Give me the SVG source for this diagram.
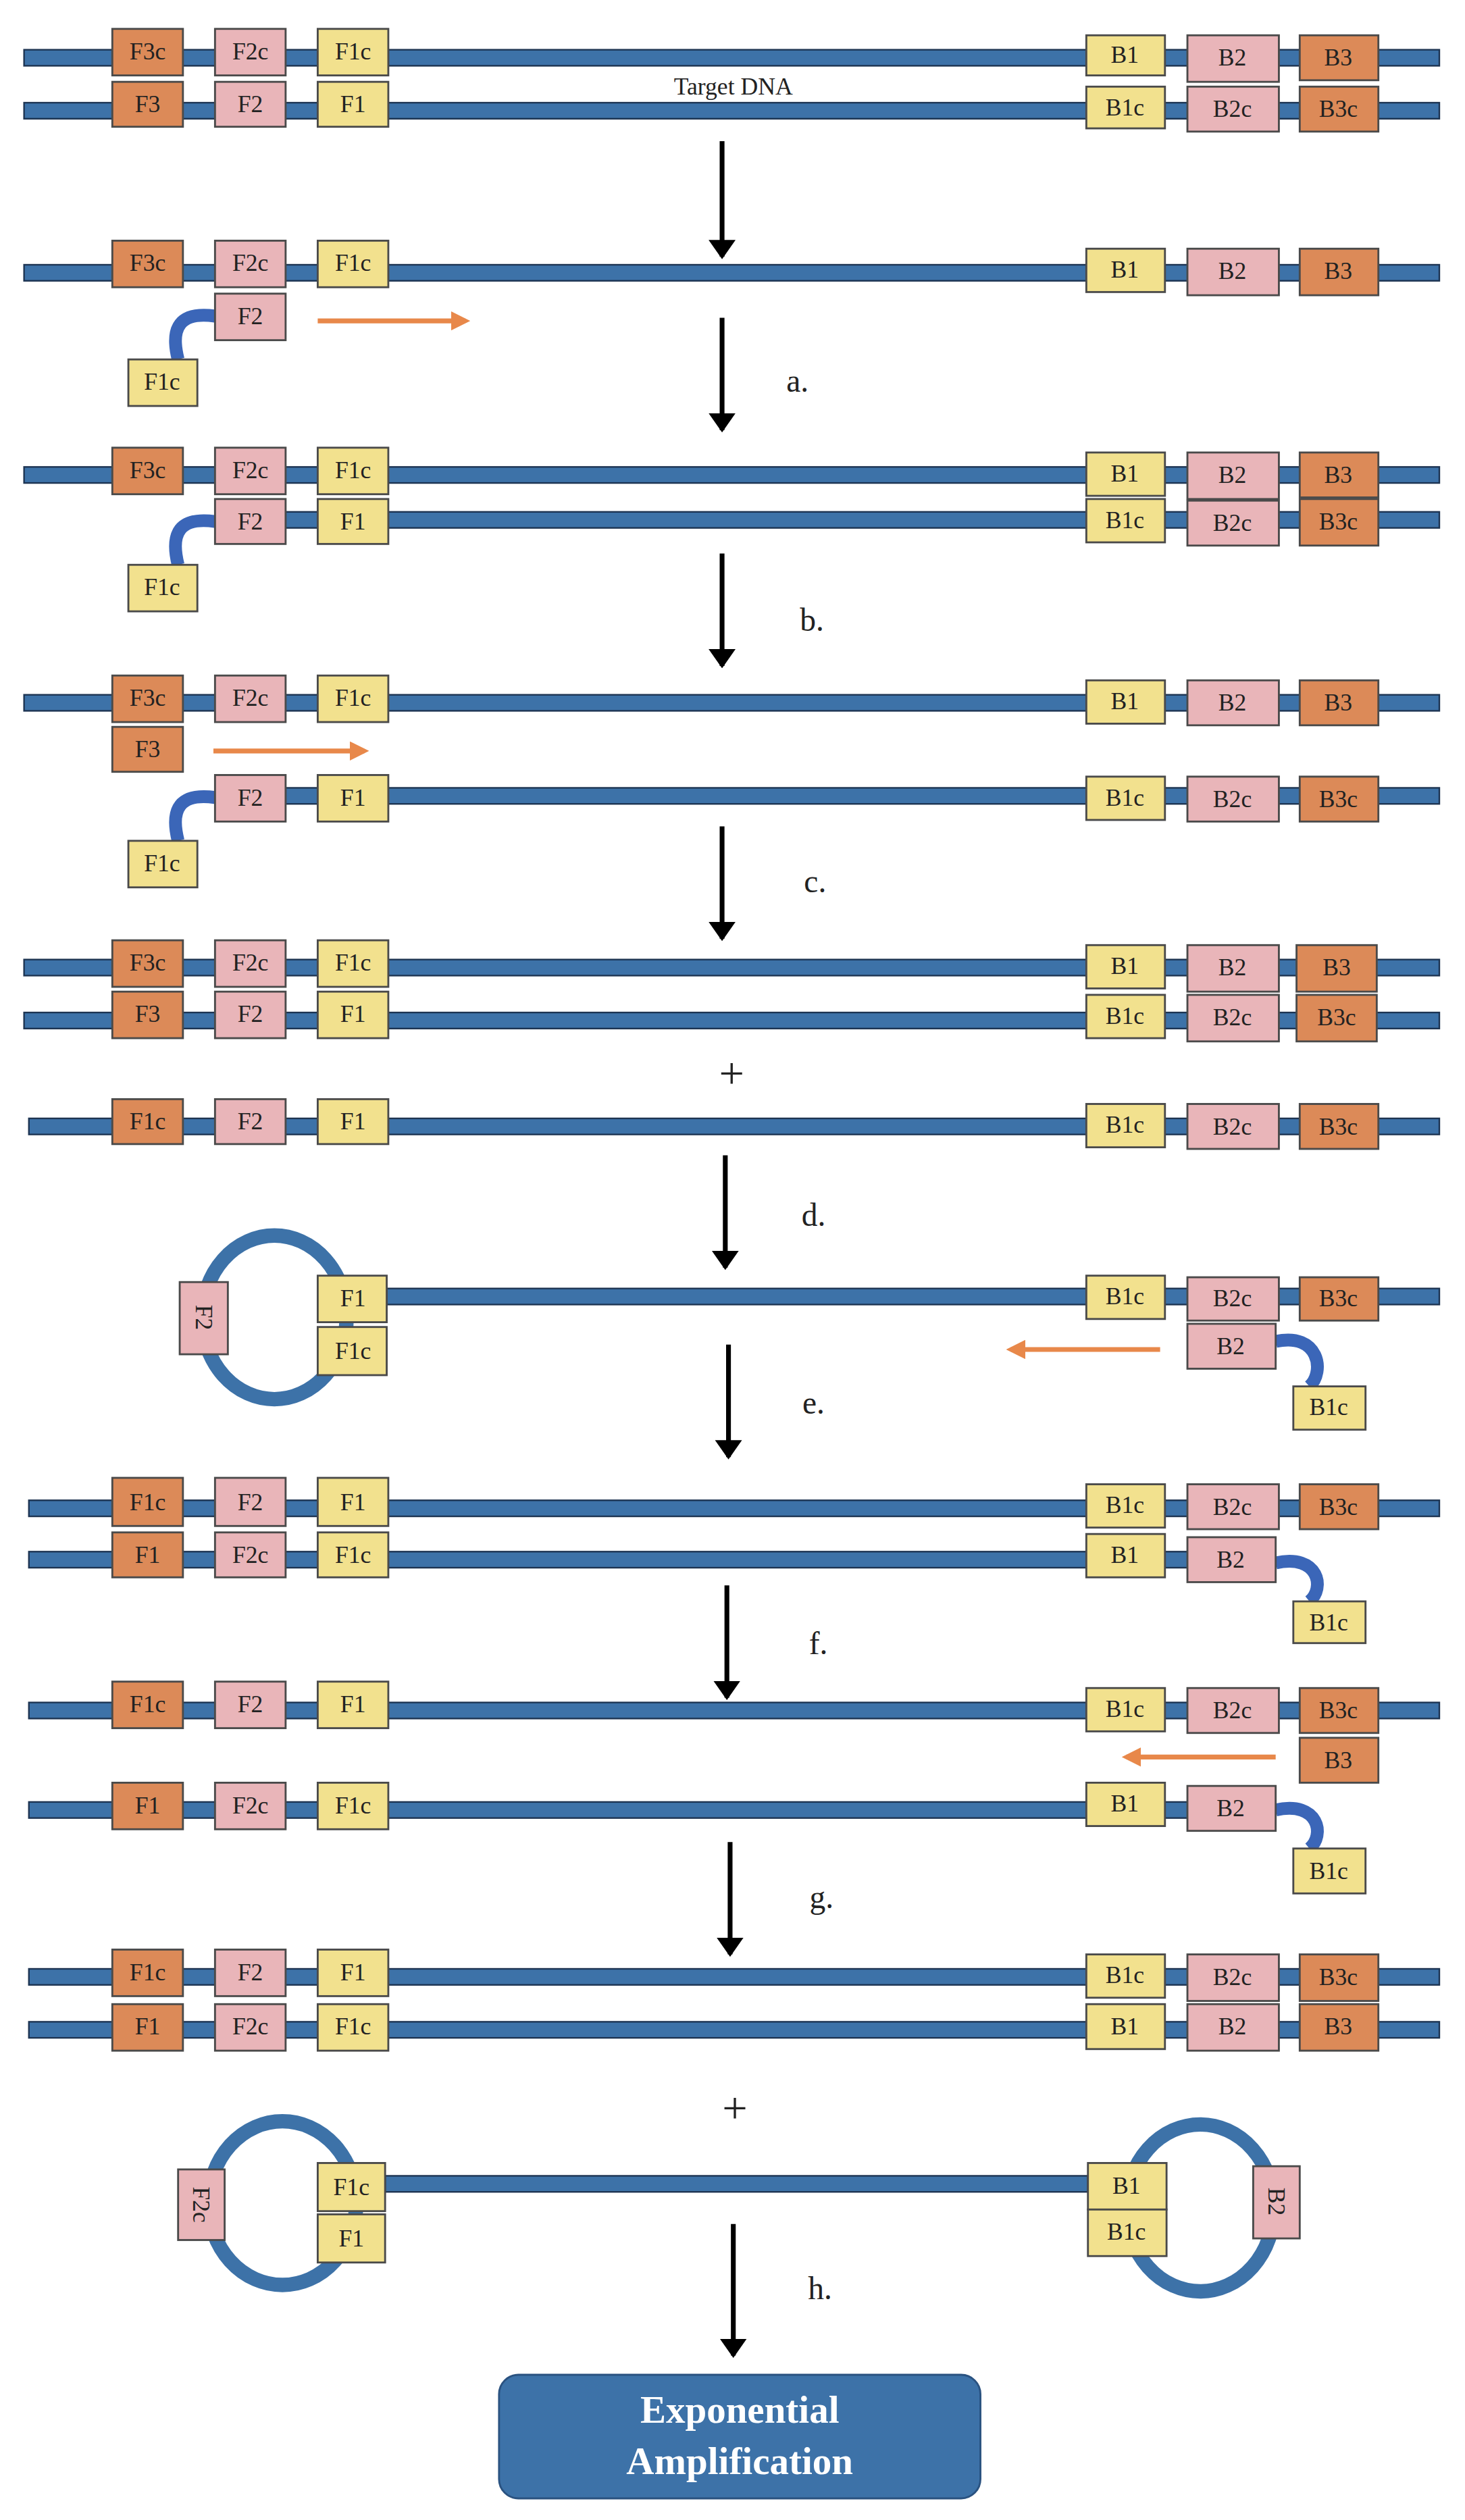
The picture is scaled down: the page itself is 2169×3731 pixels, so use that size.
<svg xmlns="http://www.w3.org/2000/svg" width="2169" height="3731" viewBox="0 0 2169 3731">
<defs>
<style>
.s{fill:#3d72a8;stroke:#1d3452;stroke-width:1}
.o{fill:#dc8a58;stroke:#4a4a4a;stroke-width:1.2}
.p{fill:#e9b5b9;stroke:#4a4a4a;stroke-width:1.2}
.y{fill:#f2e18e;stroke:#4a4a4a;stroke-width:1.2}
text{font-family:"Liberation Serif",serif;font-size:15px;fill:#222;text-anchor:middle}
.lb{font-size:20px}
.pl{font-size:28px}
.ar{stroke:#000;stroke-width:3;fill:none;marker-end:url(#ah)}
.oa{stroke:#e8884a;stroke-width:3;fill:none;marker-end:url(#oh)}
.hk{stroke:#3b66b8;stroke-width:8;fill:none}
.lp{stroke:#3d72a8;stroke-width:9;fill:none}
</style>
<marker id="ah" markerWidth="4" markerHeight="6" refX="3.5" refY="3" orient="auto" markerUnits="strokeWidth"><path d="M0,0.2 L4,3 L0,5.8 Z" fill="#000"/></marker>
<marker id="oh" markerWidth="4" markerHeight="4" refX="3" refY="2" orient="auto" markerUnits="strokeWidth"><path d="M0,0 L4,2 L0,4 Z" fill="#e8884a"/></marker>
</defs>
<rect width="2169" height="3731" fill="#fff"/>
<g transform="scale(2.3757)">
<g id="strands">
<rect class="s" x="15" y="31" width="882" height="10"/>
<rect class="s" x="15" y="64" width="882" height="10"/>
<rect class="s" x="15" y="165" width="882" height="10"/>
<rect class="s" x="15" y="291" width="882" height="10"/>
<rect class="s" x="178" y="319" width="719" height="10"/>
<rect class="s" x="15" y="433" width="882" height="10"/>
<rect class="s" x="178" y="491" width="719" height="10"/>
<rect class="s" x="15" y="598" width="882" height="10"/>
<rect class="s" x="15" y="631" width="882" height="10"/>
<rect class="s" x="18" y="697" width="879" height="10"/>
<rect class="s" x="241" y="803" width="656" height="10"/>
<rect class="s" x="18" y="935" width="879" height="10"/>
<rect class="s" x="18" y="967" width="777" height="10"/>
<rect class="s" x="18" y="1061" width="879" height="10"/>
<rect class="s" x="18" y="1123" width="777" height="10"/>
<rect class="s" x="18" y="1227" width="879" height="10"/>
<rect class="s" x="18" y="1260" width="879" height="10"/>
<rect class="s" x="240" y="1356" width="438" height="10"/>
<ellipse class="lp" cx="171" cy="821" rx="45" ry="51"/>
<ellipse class="lp" cx="176" cy="1373" rx="46" ry="51"/>
<ellipse class="lp" cx="748" cy="1376" rx="46" ry="52"/>
<path class="hk" d="M111,224 C106,204 112,194 134,197"/>
<path class="hk" d="M111,352 C106,332 112,322 134,325"/>
<path class="hk" d="M111,524 C106,504 112,494 134,497"/>
<path class="hk" d="M795,836 C822,830 826,855 816,864"/>
<path class="hk" d="M795,974 C822,968 826,990 816,998"/>
<path class="hk" d="M795,1128 C822,1122 826,1144 816,1152"/>
</g>
<g id="arrows">
<line class="ar" x1="450" y1="88" x2="450" y2="160"/>
<line class="ar" x1="450" y1="198" x2="450" y2="268"/>
<line class="ar" x1="450" y1="345" x2="450" y2="415"/>
<line class="ar" x1="450" y1="515" x2="450" y2="585"/>
<line class="ar" x1="452" y1="720" x2="452" y2="790"/>
<line class="ar" x1="454" y1="838" x2="454" y2="908"/>
<line class="ar" x1="453" y1="988" x2="453" y2="1058"/>
<line class="ar" x1="455" y1="1148" x2="455" y2="1218"/>
<line class="ar" x1="457" y1="1386" x2="457" y2="1468"/>
<line class="oa" x1="198" y1="200" x2="290" y2="200"/>
<line class="oa" x1="133" y1="468" x2="227" y2="468"/>
<line class="oa" x1="723" y1="841" x2="630" y2="841"/>
<line class="oa" x1="795" y1="1095" x2="702" y2="1095"/>
</g>
<g id="labels">
<text x="457" y="59">Target DNA</text>
<text class="lb" x="497" y="244">a.</text>
<text class="lb" x="506" y="393">b.</text>
<text class="lb" x="508" y="556">c.</text>
<text class="lb" x="507" y="764">d.</text>
<text class="lb" x="507" y="881">e.</text>
<text class="lb" x="510" y="1031">f.</text>
<text class="lb" x="512" y="1189">g.</text>
<text class="lb" x="511" y="1433">h.</text>
<text class="pl" x="456" y="678">+</text>
<text class="pl" x="458" y="1323">+</text>
</g>
<!-- row 0 -->
<g id="r0a"><rect class="o" x="70" y="18" width="44" height="29"/><text x="92" y="37">F3c</text></g>
<g id="r0b"><rect class="p" x="134" y="18" width="44" height="29"/><text x="156" y="37">F2c</text></g>
<g id="r0c"><rect class="y" x="198" y="18" width="44" height="29"/><text x="220" y="37">F1c</text></g>
<g id="r0d"><rect class="y" x="677" y="22" width="49" height="25"/><text x="701" y="39">B1</text></g>
<g id="r0e"><rect class="p" x="740" y="22" width="57" height="29"/><text x="768" y="41">B2</text></g>
<g id="r0f"><rect class="o" x="810" y="22" width="49" height="28"/><text x="834" y="41">B3</text></g>
<g id="r0g"><rect class="o" x="70" y="51" width="44" height="28"/><text x="92" y="70">F3</text></g>
<g id="r0h"><rect class="p" x="134" y="51" width="44" height="28"/><text x="156" y="70">F2</text></g>
<g id="r0i"><rect class="y" x="198" y="51" width="44" height="28"/><text x="220" y="70">F1</text></g>
<g id="r0j"><rect class="y" x="677" y="54" width="49" height="26"/><text x="701" y="72">B1c</text></g>
<g id="r0k"><rect class="p" x="740" y="54" width="57" height="28"/><text x="768" y="73">B2c</text></g>
<g id="r0l"><rect class="o" x="810" y="54" width="49" height="28"/><text x="834" y="73">B3c</text></g>
<!-- row 1 -->
<g id="r1a"><rect class="o" x="70" y="150" width="44" height="29"/><text x="92" y="169">F3c</text></g>
<g id="r1b"><rect class="p" x="134" y="150" width="44" height="29"/><text x="156" y="169">F2c</text></g>
<g id="r1c"><rect class="y" x="198" y="150" width="44" height="29"/><text x="220" y="169">F1c</text></g>
<g id="r1d"><rect class="y" x="677" y="155" width="49" height="27"/><text x="701" y="173">B1</text></g>
<g id="r1e"><rect class="p" x="740" y="155" width="57" height="29"/><text x="768" y="174">B2</text></g>
<g id="r1f"><rect class="o" x="810" y="155" width="49" height="29"/><text x="834" y="174">B3</text></g>
<g id="r1g"><rect class="p" x="134" y="183" width="44" height="29"/><text x="156" y="202">F2</text></g>
<g id="r1h"><rect class="y" x="80" y="224" width="43" height="29"/><text x="101" y="243">F1c</text></g>
<!-- row 2 -->
<g id="r2a"><rect class="o" x="70" y="279" width="44" height="29"/><text x="92" y="298">F3c</text></g>
<g id="r2b"><rect class="p" x="134" y="279" width="44" height="29"/><text x="156" y="298">F2c</text></g>
<g id="r2c"><rect class="y" x="198" y="279" width="44" height="29"/><text x="220" y="298">F1c</text></g>
<g id="r2d"><rect class="y" x="677" y="282" width="49" height="27"/><text x="701" y="300">B1</text></g>
<g id="r2e"><rect class="p" x="740" y="282" width="57" height="29"/><text x="768" y="301">B2</text></g>
<g id="r2f"><rect class="o" x="810" y="282" width="49" height="28"/><text x="834" y="301">B3</text></g>
<g id="r2g"><rect class="p" x="134" y="311" width="44" height="28"/><text x="156" y="330">F2</text></g>
<g id="r2h"><rect class="y" x="198" y="311" width="44" height="28"/><text x="220" y="330">F1</text></g>
<g id="r2i"><rect class="y" x="677" y="311" width="49" height="27"/><text x="701" y="329">B1c</text></g>
<g id="r2j"><rect class="p" x="740" y="312" width="57" height="28"/><text x="768" y="331">B2c</text></g>
<g id="r2k"><rect class="o" x="810" y="311" width="49" height="29"/><text x="834" y="330">B3c</text></g>
<g id="r2l"><rect class="y" x="80" y="352" width="43" height="29"/><text x="101" y="371">F1c</text></g>
<!-- row 3 -->
<g id="r3a"><rect class="o" x="70" y="421" width="44" height="29"/><text x="92" y="440">F3c</text></g>
<g id="r3b"><rect class="p" x="134" y="421" width="44" height="29"/><text x="156" y="440">F2c</text></g>
<g id="r3c"><rect class="y" x="198" y="421" width="44" height="29"/><text x="220" y="440">F1c</text></g>
<g id="r3d"><rect class="y" x="677" y="424" width="49" height="27"/><text x="701" y="442">B1</text></g>
<g id="r3e"><rect class="p" x="740" y="424" width="57" height="28"/><text x="768" y="443">B2</text></g>
<g id="r3f"><rect class="o" x="810" y="424" width="49" height="28"/><text x="834" y="443">B3</text></g>
<g id="r3g"><rect class="o" x="70" y="453" width="44" height="28"/><text x="92" y="472">F3</text></g>
<g id="r3h"><rect class="p" x="134" y="483" width="44" height="29"/><text x="156" y="502">F2</text></g>
<g id="r3i"><rect class="y" x="198" y="483" width="44" height="29"/><text x="220" y="502">F1</text></g>
<g id="r3j"><rect class="y" x="677" y="484" width="49" height="27"/><text x="701" y="502">B1c</text></g>
<g id="r3k"><rect class="p" x="740" y="484" width="57" height="28"/><text x="768" y="503">B2c</text></g>
<g id="r3l"><rect class="o" x="810" y="484" width="49" height="28"/><text x="834" y="503">B3c</text></g>
<g id="r3m"><rect class="y" x="80" y="524" width="43" height="29"/><text x="101" y="543">F1c</text></g>
<!-- row 4 -->
<g id="r4a"><rect class="o" x="70" y="586" width="44" height="29"/><text x="92" y="605">F3c</text></g>
<g id="r4b"><rect class="p" x="134" y="586" width="44" height="29"/><text x="156" y="605">F2c</text></g>
<g id="r4c"><rect class="y" x="198" y="586" width="44" height="29"/><text x="220" y="605">F1c</text></g>
<g id="r4d"><rect class="y" x="677" y="589" width="49" height="27"/><text x="701" y="607">B1</text></g>
<g id="r4e"><rect class="p" x="740" y="589" width="57" height="29"/><text x="768" y="608">B2</text></g>
<g id="r4f"><rect class="o" x="808" y="589" width="50" height="29"/><text x="833" y="608">B3</text></g>
<g id="r4g"><rect class="o" x="70" y="618" width="44" height="29"/><text x="92" y="637">F3</text></g>
<g id="r4h"><rect class="p" x="134" y="618" width="44" height="29"/><text x="156" y="637">F2</text></g>
<g id="r4i"><rect class="y" x="198" y="618" width="44" height="29"/><text x="220" y="637">F1</text></g>
<g id="r4j"><rect class="y" x="677" y="620" width="49" height="27"/><text x="701" y="638">B1c</text></g>
<g id="r4k"><rect class="p" x="740" y="620" width="57" height="29"/><text x="768" y="639">B2c</text></g>
<g id="r4l"><rect class="o" x="808" y="620" width="50" height="29"/><text x="833" y="639">B3c</text></g>
<g id="r4m"><rect class="o" x="70" y="685" width="44" height="28"/><text x="92" y="704">F1c</text></g>
<g id="r4n"><rect class="p" x="134" y="685" width="44" height="28"/><text x="156" y="704">F2</text></g>
<g id="r4o"><rect class="y" x="198" y="685" width="44" height="28"/><text x="220" y="704">F1</text></g>
<g id="r4p"><rect class="y" x="677" y="688" width="49" height="27"/><text x="701" y="706">B1c</text></g>
<g id="r4q"><rect class="p" x="740" y="688" width="57" height="28"/><text x="768" y="707">B2c</text></g>
<g id="r4r"><rect class="o" x="810" y="688" width="49" height="28"/><text x="834" y="707">B3c</text></g>
<!-- row 5 -->
<g id="r5a"><rect class="p" x="112" y="799" width="30" height="45"/><text transform="translate(127,821) rotate(90)" y="5">F2</text></g>
<g id="r5b"><rect class="y" x="198" y="795" width="43" height="29"/><text x="220" y="814">F1</text></g>
<g id="r5c"><rect class="y" x="198" y="827" width="43" height="30"/><text x="220" y="847">F1c</text></g>
<g id="r5d"><rect class="y" x="677" y="795" width="49" height="27"/><text x="701" y="813">B1c</text></g>
<g id="r5e"><rect class="p" x="740" y="796" width="57" height="27"/><text x="768" y="814">B2c</text></g>
<g id="r5f"><rect class="o" x="810" y="796" width="49" height="27"/><text x="834" y="814">B3c</text></g>
<g id="r5g"><rect class="p" x="740" y="825" width="55" height="28"/><text x="767" y="844">B2</text></g>
<g id="r5h"><rect class="y" x="806" y="864" width="45" height="27"/><text x="828" y="882">B1c</text></g>
<!-- row 6 -->
<g id="r6a"><rect class="o" x="70" y="921" width="44" height="30"/><text x="92" y="941">F1c</text></g>
<g id="r6b"><rect class="p" x="134" y="921" width="44" height="30"/><text x="156" y="941">F2</text></g>
<g id="r6c"><rect class="y" x="198" y="921" width="44" height="30"/><text x="220" y="941">F1</text></g>
<g id="r6d"><rect class="y" x="677" y="925" width="49" height="27"/><text x="701" y="943">B1c</text></g>
<g id="r6e"><rect class="p" x="740" y="925" width="57" height="28"/><text x="768" y="944">B2c</text></g>
<g id="r6f"><rect class="o" x="810" y="925" width="49" height="28"/><text x="834" y="944">B3c</text></g>
<g id="r6g"><rect class="o" x="70" y="955" width="44" height="28"/><text x="92" y="974">F1</text></g>
<g id="r6h"><rect class="p" x="134" y="955" width="44" height="28"/><text x="156" y="974">F2c</text></g>
<g id="r6i"><rect class="y" x="198" y="955" width="44" height="28"/><text x="220" y="974">F1c</text></g>
<g id="r6j"><rect class="y" x="677" y="956" width="49" height="27"/><text x="701" y="974">B1</text></g>
<g id="r6k"><rect class="p" x="740" y="958" width="55" height="28"/><text x="767" y="977">B2</text></g>
<g id="r6l"><rect class="y" x="806" y="998" width="45" height="26"/><text x="828" y="1016">B1c</text></g>
<!-- row 7 -->
<g id="r7a"><rect class="o" x="70" y="1048" width="44" height="29"/><text x="92" y="1067">F1c</text></g>
<g id="r7b"><rect class="p" x="134" y="1048" width="44" height="29"/><text x="156" y="1067">F2</text></g>
<g id="r7c"><rect class="y" x="198" y="1048" width="44" height="29"/><text x="220" y="1067">F1</text></g>
<g id="r7d"><rect class="y" x="677" y="1052" width="49" height="27"/><text x="701" y="1070">B1c</text></g>
<g id="r7e"><rect class="p" x="740" y="1052" width="57" height="28"/><text x="768" y="1071">B2c</text></g>
<g id="r7f"><rect class="o" x="810" y="1052" width="49" height="28"/><text x="834" y="1071">B3c</text></g>
<g id="r7g"><rect class="o" x="810" y="1083" width="49" height="28"/><text x="834" y="1102">B3</text></g>
<g id="r7h"><rect class="o" x="70" y="1111" width="44" height="29"/><text x="92" y="1130">F1</text></g>
<g id="r7i"><rect class="p" x="134" y="1111" width="44" height="29"/><text x="156" y="1130">F2c</text></g>
<g id="r7j"><rect class="y" x="198" y="1111" width="44" height="29"/><text x="220" y="1130">F1c</text></g>
<g id="r7k"><rect class="y" x="677" y="1111" width="49" height="27"/><text x="701" y="1129">B1</text></g>
<g id="r7l"><rect class="p" x="740" y="1113" width="55" height="28"/><text x="767" y="1132">B2</text></g>
<g id="r7m"><rect class="y" x="806" y="1152" width="45" height="28"/><text x="828" y="1171">B1c</text></g>
<!-- row 8 -->
<g id="r8a"><rect class="o" x="70" y="1215" width="44" height="29"/><text x="92" y="1234">F1c</text></g>
<g id="r8b"><rect class="p" x="134" y="1215" width="44" height="29"/><text x="156" y="1234">F2</text></g>
<g id="r8c"><rect class="y" x="198" y="1215" width="44" height="29"/><text x="220" y="1234">F1</text></g>
<g id="r8d"><rect class="y" x="677" y="1218" width="49" height="27"/><text x="701" y="1236">B1c</text></g>
<g id="r8e"><rect class="p" x="740" y="1218" width="57" height="29"/><text x="768" y="1237">B2c</text></g>
<g id="r8f"><rect class="o" x="810" y="1218" width="49" height="29"/><text x="834" y="1237">B3c</text></g>
<g id="r8g"><rect class="o" x="70" y="1249" width="44" height="29"/><text x="92" y="1268">F1</text></g>
<g id="r8h"><rect class="p" x="134" y="1249" width="44" height="29"/><text x="156" y="1268">F2c</text></g>
<g id="r8i"><rect class="y" x="198" y="1249" width="44" height="29"/><text x="220" y="1268">F1c</text></g>
<g id="r8j"><rect class="y" x="677" y="1249" width="49" height="28"/><text x="701" y="1268">B1</text></g>
<g id="r8k"><rect class="p" x="740" y="1249" width="57" height="29"/><text x="768" y="1268">B2</text></g>
<g id="r8l"><rect class="o" x="810" y="1249" width="49" height="29"/><text x="834" y="1268">B3</text></g>
<!-- row 9 -->
<g id="r9a"><rect class="p" x="111" y="1352" width="29" height="44"/><text transform="translate(125.5,1374) rotate(90)" y="5">F2c</text></g>
<g id="r9b"><rect class="y" x="198" y="1348" width="42" height="30"/><text x="219" y="1368">F1c</text></g>
<g id="r9c"><rect class="y" x="198" y="1380" width="42" height="30"/><text x="219" y="1400">F1</text></g>
<g id="r9d"><rect class="y" x="678" y="1348" width="49" height="29"/><text x="702" y="1367">B1</text></g>
<g id="r9e"><rect class="y" x="678" y="1377" width="49" height="29"/><text x="702" y="1396">B1c</text></g>
<g id="r9f"><rect class="p" x="781" y="1350" width="29" height="45"/><text transform="translate(795.5,1372) rotate(90)" y="5">B2</text></g>
<g id="amp"><rect x="311" y="1480" width="300" height="77" rx="12" fill="#3d72a8" stroke="#2a5280" stroke-width="1.2"/>
<text x="461" y="1510" style="font-size:24px;font-weight:bold;fill:#fff">Exponential</text>
<text x="461" y="1542" style="font-size:24px;font-weight:bold;fill:#fff">Amplification</text></g>
</g>
</svg>
